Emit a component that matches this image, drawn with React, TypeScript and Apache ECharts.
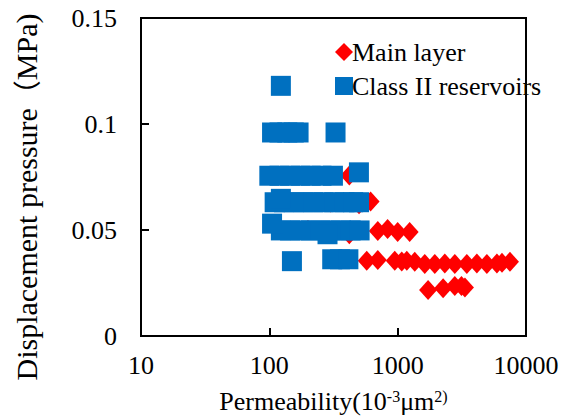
import React, { useEffect, useRef } from "react";
import * as echarts from "echarts";

const xTickLabels = ["10", "100", "1000", "10000"];
const yTickLabels = ["0", "0.05", "0.1", "0.15"];

const seriesNames = ["Main layer", "Class II reservoirs"];

// Main layer: [permeability, displacement pressure]
const mainLayerX = [
  200, 300, 420, 420, 500, 615,
  700, 835, 1000, 1240,
  574, 700, 949, 1076, 1178, 1359, 1626, 1947, 2330, 2788, 3459, 4141, 4955, 5933, 6500, 7500,
  1726, 2260, 2787, 3141, 3343,
];
const mainLayerY = [
  0.05, 0.063, 0.0757, 0.048, 0.0622, 0.0635,
  0.0495, 0.0505, 0.049, 0.049,
  0.0355, 0.0358, 0.0355, 0.0352, 0.0355, 0.035, 0.034, 0.034, 0.0342, 0.034, 0.034, 0.0342, 0.034, 0.0342, 0.0345, 0.035,
  0.0217, 0.0225, 0.0236, 0.0236, 0.0229,
];

// Class II reservoirs
const classIIX = [
  123,
  105, 120, 138, 155, 169, 328,
  100, 120, 145, 175, 210, 255, 313, 499,
  110, 130, 155, 185, 220, 265, 320, 385, 450, 500, 123,
  123, 145, 175, 210, 250, 300, 360, 430, 505, 105, 284,
  150, 309, 355, 413,
];
const classIIY = [
  0.118,
  0.096, 0.096, 0.096, 0.096, 0.096, 0.096,
  0.0756, 0.0756, 0.0756, 0.0756, 0.0756, 0.0756, 0.0756, 0.0772,
  0.0631, 0.0631, 0.0631, 0.0631, 0.0631, 0.0631, 0.0631, 0.0631, 0.0631, 0.0631, 0.0647,
  0.0498, 0.0498, 0.0498, 0.0498, 0.0498, 0.0498, 0.0498, 0.0498, 0.0498, 0.053, 0.048,
  0.0353, 0.0362, 0.0362, 0.0362,
];

const FONT = "Liberation Serif, Times New Roman, serif";
const CJK = "Noto Sans CJK SC, sans-serif";

export default function App() {
  const ref = useRef<HTMLDivElement>(null);
  useEffect(() => {
    if (!ref.current) return;
    const chart = echarts.init(ref.current, undefined, { renderer: "svg" });
    const mainData = mainLayerX.map((x, i) => [x, mainLayerY[i]]);
    const classData = classIIX.map((x, i) => [x, classIIY[i]]);
    chart.setOption({
      animation: false,
      backgroundColor: "#fff",
      grid: {
        left: 141,
        right: 43,
        top: 18,
        bottom: 81,
        show: true,
        borderColor: "#000",
        borderWidth: 2,
        backgroundColor: "transparent",
      },
      legend: {
        orient: "vertical",
        left: 330,
        top: 34,
        itemWidth: 18,
        itemHeight: 18,
        itemGap: 8,
        textStyle: { fontFamily: FONT, fontSize: 26, color: "#000", padding: [0, 0, 0, -6] },
        data: [
          { name: seriesNames[0], icon: "diamond", itemStyle: { opacity: 1 } },
          { name: seriesNames[1], icon: "rect", itemStyle: { opacity: 1 } },
        ],
      },
      xAxis: {
        type: "log",
        logBase: 10,
        min: 10,
        max: 10000,
        name: "{a|Permeability(10}{s|-3}{a|μm}{s|2)}",
        nameLocation: "middle",
        nameGap: 52,
        nameTextStyle: {
          rich: {
            a: { fontFamily: FONT, fontSize: 26, color: "#000", lineHeight: 26 },
            s: { fontFamily: FONT, fontSize: 16, color: "#000", verticalAlign: "top", lineHeight: 26, padding: [0, 0, 6, 0] },
          },
        },
        axisLine: { show: true, onZero: false, lineStyle: { color: "#000", width: 2 } },
        axisTick: { show: true, inside: true, length: 8, lineStyle: { color: "#000", width: 2 } },
        minorTick: { show: false },
        splitLine: { show: false },
        axisLabel: {
          fontFamily: FONT,
          fontSize: 26,
          color: "#000",
          margin: 16,
          formatter: (v: number) => xTickLabels[Math.round(Math.log10(v)) - 1] ?? String(v),
        },
      },
      yAxis: {
        type: "value",
        min: 0,
        max: 0.15,
        interval: 0.05,
        name: "{a|Displacement pressure}{b|（}{a|MPa)}",
        nameLocation: "middle",
        nameRotate: 90,
        nameGap: 99,
        nameTextStyle: {
          padding: [0, 40, 0, 0],
          rich: {
            a: { fontFamily: FONT, fontSize: 30, color: "#000", lineHeight: 32 },
            b: { fontFamily: CJK, fontSize: 28, color: "#000", lineHeight: 32 },
          },
        },
        axisLine: { show: true, onZero: false, lineStyle: { color: "#000", width: 2 } },
        axisTick: { show: true, inside: true, length: 8, lineStyle: { color: "#000", width: 2 } },
        splitLine: { show: false },
        axisLabel: {
          fontFamily: FONT,
          fontSize: 26,
          color: "#000",
          margin: 24,
          formatter: (v: number) => yTickLabels[Math.round(v / 0.05)] ?? String(v),
        },
      },
      series: [
        {
          name: seriesNames[0],
          type: "scatter",
          symbol: "diamond",
          symbolSize: [18, 20],
          itemStyle: { color: "#FF0000", opacity: 1 },
          data: mainData,
          z: 2,
        },
        {
          name: seriesNames[1],
          type: "scatter",
          symbol: "rect",
          symbolSize: 20,
          itemStyle: { color: "#0070C0", opacity: 1 },
          data: classData,
          z: 3,
        },
      ],
    });
    return () => chart.dispose();
  }, []);
  return (
    <div
      ref={ref}
      style={{ position: "absolute", left: 0, top: 0, width: 569, height: 419, background: "#fff" }}
    />
  );
}
